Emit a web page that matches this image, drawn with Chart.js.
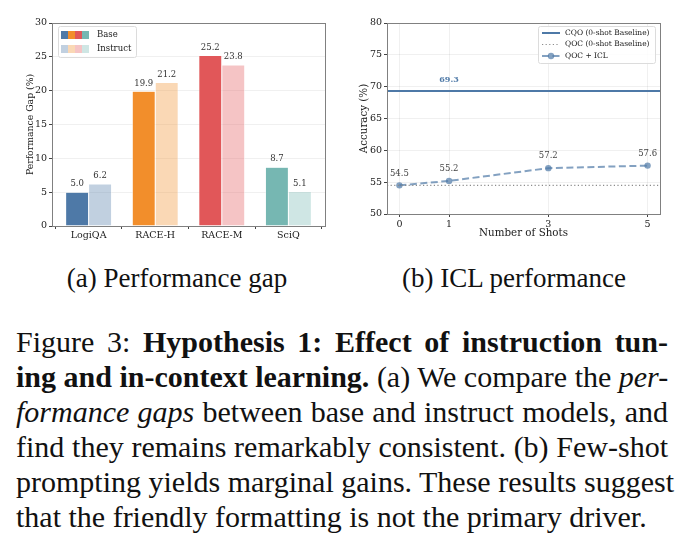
<!DOCTYPE html>
<html>
<head>
<meta charset="utf-8">
<script src="https://cdn.jsdelivr.net/npm/chart.js@4.4.0/dist/chart.umd.min.js"></script>
<style>
  body { margin: 0; background: #fff; width: 691px; height: 554px; position: relative; overflow: hidden; }
  #c1 { position: absolute; left: 0; top: 0; }
  #c2 { position: absolute; left: 345px; top: 0; }
  .sub { position: absolute; top: 263px; width: 300px; text-align: center; font-family: "Liberation Serif", "Times New Roman", serif; font-size: 27px; line-height: 30px; color: #111; white-space: nowrap; }
  #caption { position: absolute; left: 16px; top: 324px; width: 652px; font-family: "Liberation Serif", "Times New Roman", serif; font-size: 30px; line-height: 35px; color: #111; }
  #caption .ln { text-align: justify; text-align-last: justify; white-space: nowrap; }
  #caption .last { text-align: left; text-align-last: left; white-space: nowrap; }
</style>
</head>
<body>
<canvas id="c1" width="345" height="250"></canvas>
<canvas id="c2" width="346" height="250"></canvas>
<div class="sub" style="left:27px">(a) Performance gap</div>
<div class="sub" style="left:364px">(b) ICL performance</div>
<div id="caption">
  <div class="ln">Figure 3: <b>Hypothesis 1: Effect of instruction tun-</b></div>
  <div class="ln"><b>ing and in-context learning.</b> (a) We compare the <i>per-</i></div>
  <div class="ln"><i>formance gaps</i> between base and instruct models, and</div>
  <div class="ln">find they remains remarkably consistent. (b) Few-shot</div>
  <div class="ln">prompting yields marginal gains. These results suggest</div>
  <div class="last">that the friendly formatting is not the primary driver.</div>
</div>
<script>
// (a) performance gap
const categories = ['LogiQA', 'RACE-H', 'RACE-M', 'SciQ'];
const baseGap = [5.0, 19.9, 25.2, 8.7];
const instructGap = [6.2, 21.2, 23.8, 5.1];
const gapTicks = [0, 5, 10, 15, 20, 25, 30];
const catRange = [-0.55, 3.55];

// (b) ICL performance
const shots = [0, 1, 3, 5];
const iclAcc = [54.5, 55.2, 57.2, 57.6];
const cqoBaseline = 69.3;
const qocBaseline = 54.5;
const accTicks = [50, 55, 60, 65, 70, 75, 80];
const shotRange = [-0.25, 5.25];

const baseColors = ['#4e79a7', '#f28e2b', '#e15759', '#76b7b2'];
const instructColors = ['rgba(78,121,167,0.35)', 'rgba(242,142,43,0.35)', 'rgba(225,87,89,0.35)', 'rgba(118,183,178,0.35)'];

Chart.defaults.font.family = "'DejaVu Serif', serif";
Chart.defaults.color = '#1a1a1a';

const frameColor = '#808080';
const gridColor = 'rgba(0,0,0,0.06)';

// box round the plot area, like matplotlib spines
const frame = {
  id: 'frame',
  afterDraw(chart) {
    const a = chart.chartArea, ctx = chart.ctx;
    ctx.save();
    ctx.strokeStyle = frameColor;
    ctx.lineWidth = 1;
    ctx.strokeRect(Math.round(a.left) + 0.5, Math.round(a.top) + 0.5, Math.round(a.right - a.left), Math.round(a.bottom - a.top));
    ctx.restore();
  }
};

const barLabels = {
  id: 'barLabels',
  afterDatasetsDraw(chart) {
    const ctx = chart.ctx;
    ctx.save();
    ctx.font = "8.5px 'DejaVu Serif'";
    ctx.fillStyle = '#333';
    ctx.textAlign = 'center';
    ctx.textBaseline = 'middle';
    chart.data.datasets.forEach((ds, i) => {
      chart.getDatasetMeta(i).data.forEach((bar, j) => {
        ctx.fillText(ds.data[j].y.toFixed(1), bar.x, bar.y - 8);
      });
    });
    ctx.restore();
  }
};

const gapLegend = {
  id: 'gapLegend',
  afterDraw(chart) {
    const ctx = chart.ctx;
    const x0 = 58, y0 = 26, w = 78, h = 31;
    ctx.save();
    ctx.fillStyle = 'rgba(255,255,255,0.85)';
    ctx.strokeStyle = '#dcdcdc';
    ctx.lineWidth = 1;
    ctx.beginPath();
    ctx.roundRect(x0 + 0.5, y0 + 0.5, w, h, 2);
    ctx.fill();
    ctx.stroke();
    const rows = [['Base', baseColors], ['Instruct', instructColors]];
    ctx.font = "8.5px 'DejaVu Serif'";
    ctx.textBaseline = 'middle';
    rows.forEach((r, i) => {
      const cy = y0 + 9 + i * 14;
      r[1].forEach((c, k) => {
        ctx.fillStyle = c;
        ctx.fillRect(x0 + 3 + k * 7, cy - 4, 7, 8);
      });
      ctx.fillStyle = '#1a1a1a';
      ctx.fillText(r[0], x0 + 39, cy);
    });
    ctx.restore();
  }
};

new Chart(document.getElementById('c1'), {
  type: 'bar',
  data: {
    datasets: [
      { label: 'Base', data: baseGap.map((v, i) => ({ x: i, y: v })), backgroundColor: baseColors, borderColor: '#fff', borderWidth: 0.5 },
      { label: 'Instruct', data: instructGap.map((v, i) => ({ x: i, y: v })), backgroundColor: instructColors, borderColor: '#fff', borderWidth: 0.5 }
    ]
  },
  options: {
    responsive: false,
    animation: false,
    devicePixelRatio: 1,
    layout: { padding: { left: 0, top: 23, right: 20, bottom: 0 } },
    datasets: { bar: { categoryPercentage: 0.69, barPercentage: 1 } },
    plugins: { legend: { display: false }, tooltip: { enabled: false } },
    scales: {
      x: {
        type: 'linear',
        offset: false,
        min: catRange[0], max: catRange[1],
        afterBuildTicks(s) { s.ticks = categories.map((c, i) => ({ value: i })); },
        grid: { drawOnChartArea: false, tickLength: 3, tickColor: '#444' },
        border: { color: frameColor },
        ticks: { font: { size: 9.5 }, padding: 1, callback: v => categories[v] },
        afterFit(s) { s.height = 24; }
      },
      y: {
        min: 0, max: 30,
        afterBuildTicks(s) { s.ticks = gapTicks.map(v => ({ value: v })); },
        grid: { color: gridColor, tickLength: 3, tickColor: '#444' },
        border: { color: frameColor },
        ticks: { font: { size: 9.5 }, padding: 2 },
        title: { display: true, text: 'Performance Gap (%)', font: { size: 9.3 }, padding: { top: 25, bottom: 0 } },
        afterFit(s) { s.width = 52; }
      }
    }
  },
  plugins: [frame, barLabels, gapLegend]
});

const pointLabels = {
  id: 'pointLabels',
  afterDatasetsDraw(chart) {
    const ctx = chart.ctx, xs = chart.scales.x, ys = chart.scales.y;
    ctx.save();
    ctx.textAlign = 'center';
    ctx.textBaseline = 'middle';
    ctx.font = "8.5px 'DejaVu Serif'";
    ctx.fillStyle = '#444';
    shots.forEach((s, i) => {
      ctx.fillText(iclAcc[i].toFixed(1), xs.getPixelForValue(s), ys.getPixelForValue(iclAcc[i]) - 12);
    });
    ctx.font = "bold 8px 'DejaVu Serif'";
    ctx.fillStyle = '#4e79a7';
    ctx.fillText(cqoBaseline.toFixed(1), xs.getPixelForValue(shots[1]), ys.getPixelForValue(cqoBaseline) - 11);
    ctx.restore();
  }
};

const iclLegend = {
  id: 'iclLegend',
  afterDraw(chart) {
    const ctx = chart.ctx;
    const x0 = 193, y0 = 26, w = 117, h = 37;
    ctx.save();
    ctx.fillStyle = 'rgba(255,255,255,0.85)';
    ctx.strokeStyle = '#dcdcdc';
    ctx.lineWidth = 1;
    ctx.beginPath();
    ctx.roundRect(x0 + 0.5, y0 + 0.5, w, h, 2);
    ctx.fill();
    ctx.stroke();
    ctx.font = "7.5px 'DejaVu Serif'";
    ctx.textBaseline = 'middle';
    chart.data.datasets.forEach((ds, i) => {
      const cy = y0 + 7 + i * 11.5;
      ctx.strokeStyle = ds.borderColor;
      ctx.lineWidth = ds.borderWidth;
      ctx.setLineDash(ds.borderDash || []);
      ctx.beginPath();
      ctx.moveTo(x0 + 4, cy);
      ctx.lineTo(x0 + 22, cy);
      ctx.stroke();
      ctx.setLineDash([]);
      if (ds.pointRadius) {
        ctx.fillStyle = ds.pointBackgroundColor;
        ctx.beginPath();
        ctx.arc(x0 + 13, cy, ds.pointRadius, 0, Math.PI * 2);
        ctx.fill();
      }
      ctx.fillStyle = '#1a1a1a';
      ctx.fillText(ds.label, x0 + 27, cy);
    });
    ctx.restore();
  }
};

new Chart(document.getElementById('c2'), {
  type: 'line',
  data: {
    datasets: [
      {
        label: 'CQO (0-shot Baseline)',
        data: shotRange.map(x => ({ x: x, y: cqoBaseline })),
        borderColor: '#4e79a7', borderWidth: 2, pointRadius: 0
      },
      {
        label: 'QOC (0-shot Baseline)',
        data: shotRange.map(x => ({ x: x, y: qocBaseline })),
        borderColor: '#8c8c8c', borderWidth: 1.1, borderDash: [1.2, 2.4], pointRadius: 0
      },
      {
        label: 'QOC + ICL',
        data: shots.map((s, i) => ({ x: s, y: iclAcc[i] })),
        borderColor: 'rgba(78,121,167,0.7)', borderWidth: 2, borderDash: [7, 3.5],
        pointRadius: 3.2, pointBackgroundColor: 'rgba(78,121,167,0.7)', pointBorderWidth: 0
      }
    ]
  },
  options: {
    responsive: false,
    animation: false,
    devicePixelRatio: 1,
    layout: { padding: { left: 0, top: 23, right: 31, bottom: 0 } },
    plugins: { legend: { display: false }, tooltip: { enabled: false } },
    scales: {
      x: {
        type: 'linear',
        min: shotRange[0], max: shotRange[1],
        afterBuildTicks(s) { s.ticks = shots.map(v => ({ value: v })); },
        grid: { color: gridColor, tickLength: 3, tickColor: '#444' },
        border: { color: frameColor },
        ticks: { font: { size: 9.5 }, padding: 2 },
        title: { display: true, text: 'Number of Shots', font: { size: 10.3 }, padding: { top: 0, bottom: 10.8 } },
        afterFit(s) { s.height = 36; }
      },
      y: {
        min: 50, max: 80,
        afterBuildTicks(s) { s.ticks = accTicks.map(v => ({ value: v })); },
        grid: { color: gridColor, tickLength: 3, tickColor: '#444' },
        border: { color: frameColor },
        ticks: { font: { size: 9.5 }, padding: 2 },
        title: { display: true, text: 'Accuracy (%)', font: { size: 10.3 }, padding: { top: 12.8, bottom: 0 } },
        afterFit(s) { s.width = 42; }
      }
    }
  },
  plugins: [frame, pointLabels, iclLegend]
});
</script>
</body>
</html>
